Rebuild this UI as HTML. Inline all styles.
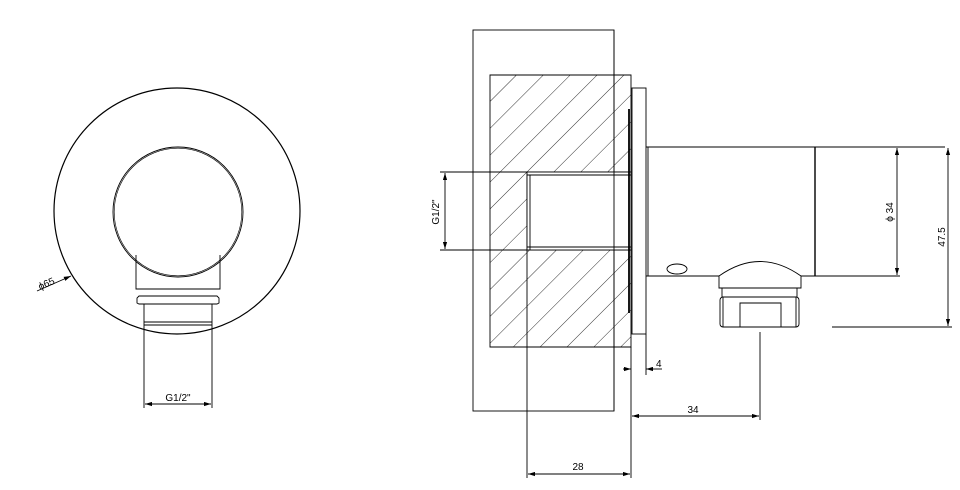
<!DOCTYPE html>
<html><head><style>body{margin:0;background:#fff}svg{display:block}</style></head><body>
<svg width="960" height="490" viewBox="0 0 960 490" xmlns="http://www.w3.org/2000/svg" font-family="Liberation Sans, sans-serif" font-size="10">
<defs>
<pattern id="h" patternUnits="userSpaceOnUse" width="19" height="19" patternTransform="rotate(45)">
<line x1="0" y1="0" x2="0" y2="19" stroke="#000" stroke-width="0.8"/>
</pattern>
<marker id="a" viewBox="0 0 10 6" refX="10" refY="3" markerWidth="8" markerHeight="5" orient="auto-start-reverse"><path d="M0,0L10,3L0,6z" fill="#000"/></marker>
</defs>
<g fill="none" stroke="#000" stroke-width="0.9">
<circle cx="177" cy="211" r="123" stroke-width="1.2"/>
<circle cx="178" cy="212" r="65"/>
<circle cx="178" cy="212" r="63.8" stroke-width="0.6"/>
<path d="M136,255V289H220V255"/>
<path d="M139,296H217L219,298V303L217,304H139L137,303V298Z"/>
<path d="M144,304V330M212,304V330M144,322H212M144,325H212"/>
<path d="M144,330V408M212,330V408"/>
<line x1="145" y1="404" x2="211" y2="404" marker-start="url(#a)" marker-end="url(#a)"/>
<line x1="37" y1="291" x2="71" y2="276" marker-end="url(#a)"/>
<rect x="473" y="30" width="141" height="381"/>
<path d="M490,75H631V172H527V250H631V347H490Z" fill="url(#h)"/>
<rect x="527" y="172" width="104" height="78" fill="#fff"/>
<line x1="530" y1="175" x2="530" y2="250"/>
<line x1="527" y1="175" x2="631" y2="175"/>
<line x1="527" y1="247" x2="631" y2="247"/>
<line x1="614" y1="30" x2="614" y2="411"/>
<rect x="632" y="88" width="14" height="246"/>
<line x1="629" y1="109" x2="629" y2="313" stroke-width="1.8"/>
<path d="M646,147H945M646,276H719M801,276H900M648,147V276" />
<line x1="815" y1="147" x2="815" y2="276" stroke-width="1.4"/>
<ellipse cx="677" cy="269" rx="10" ry="5"/>
<path d="M719,276Q760,247 801,276V288H719Z"/>
<path d="M722,288H797V297H722Z"/>
<rect x="720" y="297" width="79" height="30" rx="3"/>
<line x1="723" y1="297" x2="723" y2="327"/><line x1="796" y1="297" x2="796" y2="327"/>
<path d="M740,327V303H781V327"/>
<line x1="832" y1="327" x2="952" y2="327"/>
<line x1="897" y1="148" x2="897" y2="275" marker-start="url(#a)" marker-end="url(#a)"/>
<line x1="948" y1="148" x2="948" y2="326" marker-start="url(#a)" marker-end="url(#a)"/>
<line x1="760" y1="332" x2="760" y2="420"/>
<line x1="632" y1="416" x2="759" y2="416" marker-start="url(#a)" marker-end="url(#a)"/>
<line x1="646" y1="334" x2="646" y2="375"/>
<line x1="623" y1="369" x2="631" y2="369" marker-end="url(#a)"/>
<line x1="662" y1="369" x2="646" y2="369" marker-end="url(#a)"/>
<line x1="631" y1="347" x2="631" y2="478"/>
<line x1="527" y1="250" x2="527" y2="478"/>
<line x1="528" y1="474" x2="630" y2="474" marker-start="url(#a)" marker-end="url(#a)"/>
<path d="M440,172H527M440,250H527"/>
<line x1="445" y1="173" x2="445" y2="249" marker-start="url(#a)" marker-end="url(#a)"/>
</g>
<g fill="#000">
<text x="178" y="401" text-anchor="middle">G1/2"</text>
<text x="40" y="290" transform="rotate(-23 40 290)">ϕ65</text>
<text x="439" y="212" text-anchor="middle" transform="rotate(-90 439 212)">G1/2"</text>
<text x="893" y="212" text-anchor="middle" transform="rotate(-90 893 212)">ϕ 34</text>
<text x="945" y="237" text-anchor="middle" transform="rotate(-90 945 237)">47.5</text>
<text x="656" y="367">4</text>
<text x="693" y="413" text-anchor="middle">34</text>
<text x="578" y="470" text-anchor="middle">28</text>
</g>
</svg>
</body></html>
